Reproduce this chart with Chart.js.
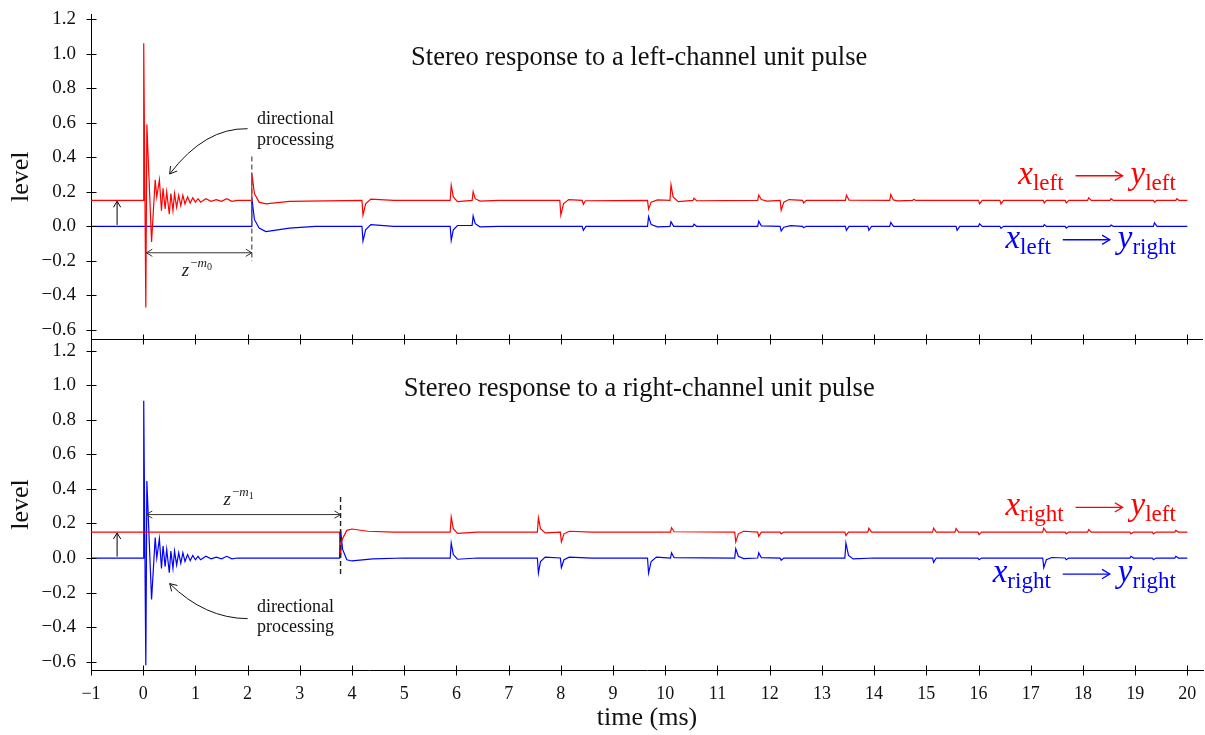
<!DOCTYPE html>
<html>
<head>
<meta charset="utf-8">
<script src="https://cdn.jsdelivr.net/npm/chart.js@4.4.1/dist/chart.umd.min.js"></script>
<style>
  html, body { margin: 0; padding: 0; background: #fff; }
</style>
</head>
<body>
<canvas id="c" width="1205" height="735"></canvas>
<script>
// tick values
const timeTicks = [-1, 0, 1, 2, 3, 4, 5, 6, 7, 8, 9, 10, 11, 12, 13, 14, 15, 16, 17, 18, 19, 20];
const levelTicks = [-0.6, -0.4, -0.2, 0, 0.2, 0.4, 0.6, 0.8, 1.0, 1.2];

// top panel: left-channel pulse, [time ms, level] (red is drawn with +0.15 offset)
const leftToLeft = [
  [-1, 0.15], [0, 0.15], [0.01, 1.06], [0.05, -0.47], [0.07, 0.59], [0.16, -0.09], [0.23, 0.27],
  [0.26, 0.17], [0.31, 0.27], [0.35, 0.09], [0.38, 0.22], [0.42, 0.10], [0.45, 0.20], [0.5, 0.07],
  [0.53, 0.19], [0.57, 0.09], [0.6, 0.19], [0.64, 0.11], [0.68, 0.18], [0.72, 0.12], [0.76, 0.18],
  [0.8, 0.13], [0.85, 0.17], [0.9, 0.135], [0.95, 0.165], [1.0, 0.14], [1.05, 0.16], [1.1, 0.14],
  [1.2, 0.16], [1.3, 0.145], [1.4, 0.155], [1.5, 0.145], [1.6, 0.16], [1.7, 0.145], [1.8, 0.15],
  [2.07, 0.15], [2.08, 0.31], [2.13, 0.19], [2.22, 0.14], [2.35, 0.13], [2.8, 0.145], [4.19, 0.15],
  [4.21, 0.065], [4.26, 0.13], [4.36, 0.158], [4.8, 0.15], [5.88, 0.15], [5.9, 0.237], [5.94, 0.17],
  [6.02, 0.143], [6.3, 0.15], [6.32, 0.2], [6.36, 0.16], [6.45, 0.146], [6.8, 0.15], [7.98, 0.15],
  [8.0, 0.065], [8.05, 0.13], [8.15, 0.155], [8.41, 0.15], [8.43, 0.127], [8.47, 0.148], [9.66, 0.15],
  [9.68, 0.1], [9.73, 0.14], [9.85, 0.153], [10.09, 0.15], [10.11, 0.24], [10.15, 0.17], [10.25, 0.143],
  [10.53, 0.15], [10.55, 0.162], [10.6, 0.148], [11.77, 0.15], [11.79, 0.18], [11.84, 0.155],
  [11.95, 0.146], [12.2, 0.15], [12.22, 0.093], [12.27, 0.14], [12.37, 0.155], [12.63, 0.15],
  [12.65, 0.135], [12.7, 0.15], [13.45, 0.15], [13.47, 0.18], [13.52, 0.152], [14.3, 0.15],
  [14.32, 0.185], [14.37, 0.153], [14.45, 0.147], [14.74, 0.15], [14.76, 0.157], [14.8, 0.15],
  [16.0, 0.15], [16.02, 0.13], [16.07, 0.15], [16.41, 0.15], [16.43, 0.13], [16.48, 0.15],
  [17.24, 0.15], [17.26, 0.135], [17.3, 0.15], [17.66, 0.15], [17.68, 0.135], [17.73, 0.15],
  [18.09, 0.15], [18.11, 0.165], [18.16, 0.15], [18.52, 0.15], [18.54, 0.16], [18.58, 0.15],
  [19.35, 0.15], [19.37, 0.14], [19.41, 0.15], [19.78, 0.15], [19.8, 0.16], [19.84, 0.15], [20, 0.15]
];
const leftToRight = [
  [-1, 0], [2.07, 0], [2.08, 0.165], [2.13, 0.04], [2.22, -0.01], [2.35, -0.03], [2.8, -0.01], [3.3, 0],
  [4.19, 0], [4.21, -0.085], [4.26, -0.02], [4.36, 0.01], [4.8, 0], [5.88, 0], [5.9, -0.081],
  [5.94, -0.02], [6.02, 0.005], [6.3, 0.005], [6.32, 0.06], [6.36, 0.015], [6.45, -0.003], [6.8, 0],
  [8.41, 0], [8.43, -0.023], [8.48, 0], [9.66, 0], [9.68, 0.056], [9.73, 0.01], [9.85, -0.003],
  [10.09, 0], [10.11, 0.027], [10.16, 0], [10.53, 0], [10.55, 0.012], [10.6, 0], [11.77, 0],
  [11.79, 0.03], [11.84, 0.003], [12.2, 0], [12.22, -0.027], [12.27, -0.005], [12.4, 0.004],
  [12.63, 0], [12.65, -0.008], [12.7, 0], [13.45, 0], [13.47, -0.023], [13.52, 0], [13.88, 0],
  [13.9, -0.023], [13.95, 0], [14.3, 0], [14.32, 0.023], [14.37, 0], [15.57, 0], [15.59, -0.023],
  [15.64, 0], [16.0, 0], [16.02, 0.015], [16.07, 0], [16.41, 0], [16.43, -0.012], [16.48, 0],
  [17.24, 0], [17.26, 0.01], [17.3, 0], [17.66, 0], [17.68, -0.01], [17.73, 0], [18.52, 0],
  [18.54, 0.008], [18.58, 0], [19.35, 0], [19.37, 0.02], [19.42, 0], [20, 0]
];

// bottom panel: right-channel pulse
const rightToLeft = [
  [-1, 0.15], [3.76, 0.15], [3.78, 0.0], [3.8, 0.1], [3.9, 0.16], [4.0, 0.168], [4.3, 0.155],
  [4.8, 0.15], [5.88, 0.15], [5.9, 0.237], [5.94, 0.17], [6.02, 0.143], [6.4, 0.15], [7.55, 0.15],
  [7.57, 0.233], [7.61, 0.17], [7.7, 0.145], [7.99, 0.15], [8.01, 0.093], [8.06, 0.14], [8.16, 0.155],
  [8.6, 0.15], [10.1, 0.15], [10.12, 0.175], [10.17, 0.152], [11.33, 0.15], [11.35, 0.093],
  [11.4, 0.14], [11.5, 0.155], [11.77, 0.15], [11.79, 0.125], [11.84, 0.15], [12.2, 0.15],
  [12.22, 0.14], [12.27, 0.15], [13.44, 0.15], [13.46, 0.13], [13.51, 0.15], [13.88, 0.15],
  [13.9, 0.173], [13.95, 0.15], [15.12, 0.15], [15.14, 0.173], [15.19, 0.15], [15.55, 0.15],
  [15.57, 0.17], [15.62, 0.15], [15.99, 0.15], [16.01, 0.135], [16.06, 0.15], [17.23, 0.15],
  [17.25, 0.173], [17.3, 0.15], [17.66, 0.15], [17.68, 0.14], [17.73, 0.15], [18.09, 0.15],
  [18.11, 0.165], [18.16, 0.15], [18.9, 0.15], [18.92, 0.14], [18.97, 0.15], [19.33, 0.15],
  [19.35, 0.14], [19.4, 0.15], [19.76, 0.15], [19.78, 0.16], [19.83, 0.15], [20, 0.15]
];
const rightToRight = [
  [-1, 0], [0, 0], [0.01, 0.91], [0.05, -0.62], [0.07, 0.446], [0.16, -0.24], [0.23, 0.118],
  [0.26, 0.0], [0.31, 0.112], [0.35, -0.06], [0.38, 0.07], [0.42, -0.05], [0.45, 0.05], [0.5, -0.085],
  [0.53, 0.04], [0.57, -0.06], [0.6, 0.04], [0.64, -0.04], [0.68, 0.03], [0.72, -0.03], [0.76, 0.03],
  [0.8, -0.02], [0.85, 0.02], [0.9, -0.015], [0.95, 0.015], [1.0, -0.01], [1.05, 0.01], [1.1, -0.01],
  [1.2, 0.01], [1.3, -0.005], [1.4, 0.005], [1.5, -0.005], [1.6, 0.01], [1.7, -0.005], [1.8, 0],
  [3.76, 0], [3.78, 0.164], [3.82, 0.05], [3.9, -0.01], [4.0, -0.017], [4.4, -0.005], [5, 0],
  [5.88, 0], [5.9, 0.087], [5.94, 0.02], [6.02, -0.007], [6.4, 0], [7.55, 0], [7.57, -0.087],
  [7.61, -0.02], [7.7, 0.005], [7.99, 0], [8.01, -0.056], [8.06, -0.01], [8.16, 0.005], [8.6, 0],
  [9.66, 0], [9.68, -0.087], [9.73, -0.02], [9.83, 0.005], [10.1, 0], [10.12, 0.03], [10.17, 0.002],
  [11.33, 0], [11.35, 0.054], [11.4, 0.01], [11.5, -0.003], [11.77, 0], [11.79, 0.03], [11.84, 0.002],
  [12.2, 0], [12.22, -0.013], [12.27, 0], [13.44, 0], [13.46, 0.087], [13.51, 0.015], [13.6, -0.005],
  [14, 0], [15.12, 0], [15.14, -0.025], [15.19, 0], [15.99, 0], [16.01, -0.01], [16.06, 0],
  [17.23, 0], [17.25, -0.056], [17.3, -0.01], [17.4, 0.003], [17.66, 0], [17.68, -0.01], [17.73, 0],
  [18.9, 0], [18.92, 0.01], [18.97, 0], [19.33, 0], [19.35, -0.01], [19.4, 0], [19.76, 0],
  [19.78, 0.01], [19.83, 0], [20, 0]
];

const SERIF = '"Liberation Serif", "DejaVu Serif", serif';
const RED = '#ff0000';
const BLUE = '#0000ff';
const INK = '#111';

const pts = arr => arr.map(p => ({ x: p[0], y: p[1] }));
const minusFmt = (v, digits) => (v < -1e-9 ? '\u2212' : '') + Math.abs(v).toFixed(digits);

function lineSet(label, arr, color, axis) {
  return {
    label, data: pts(arr), yAxisID: axis,
    borderColor: color, borderWidth: 1.2, pointRadius: 0, tension: 0, fill: false
  };
}

function yScale(min, max, weight) {
  return {
    type: 'linear', position: 'left', stack: 'panels', stackWeight: weight,
    min, max,
    afterBuildTicks: s => { s.ticks = levelTicks.map(v => ({ value: v })); },
    afterFit: s => { s.width = 91; s.paddingTop = 0; s.paddingBottom = 0; },
    grid: { display: false, drawTicks: true, tickLength: 12 },
    border: { display: true, color: '#000', width: 1 },
    ticks: { padding: 3, autoSkip: false, color: INK, font: { family: SERIF, size: 19 }, callback: v => minusFmt(v, 1) },
    title: { display: true, text: 'level', color: INK, font: { family: SERIF, size: 26 }, padding: { top: 6, bottom: 0 } }
  };
}

function arrowHead(ctx, x, y, ang, size) {
  ctx.beginPath();
  ctx.moveTo(x + size * Math.cos(ang + 2.6), y + size * Math.sin(ang + 2.6));
  ctx.lineTo(x, y);
  ctx.lineTo(x + size * Math.cos(ang - 2.6), y + size * Math.sin(ang - 2.6));
  ctx.stroke();
}

function drawPair(ctx, right, base, from, to, color) {
  const big = 'italic 33px ' + SERIF, small = '23px ' + SERIF;
  ctx.font = big;
  const wx = ctx.measureText('x').width, wy = ctx.measureText('y').width;
  ctx.font = small;
  const w1 = ctx.measureText(from).width, w2 = ctx.measureText(to).width;
  const arrowW = 47, gap1 = 12, gap2 = 8;
  let x = right - (wx + w1 + gap1 + arrowW + gap2 + wy + w2);
  ctx.fillStyle = color;
  ctx.strokeStyle = color;
  ctx.textBaseline = 'alphabetic';
  ctx.textAlign = 'left';
  ctx.font = big; ctx.fillText('x', x, base); x += wx;
  ctx.font = small; ctx.fillText(from, x, base + 6); x += w1 + gap1;
  const ay = base - 8;
  ctx.lineWidth = 1.3;
  ctx.beginPath(); ctx.moveTo(x, ay); ctx.lineTo(x + arrowW, ay); ctx.stroke();
  arrowHead(ctx, x + arrowW, ay, 0, 9);
  x += arrowW + gap2;
  ctx.font = big; ctx.fillText('y', x, base); x += wy;
  ctx.font = small; ctx.fillText(to, x, base + 6);
}

function drawZ(ctx, x, base, sub) {
  ctx.fillStyle = '#222';
  ctx.textBaseline = 'alphabetic';
  ctx.textAlign = 'left';
  ctx.font = 'italic 19px ' + SERIF; ctx.fillText('z', x, base); x += ctx.measureText('z').width + 1;
  const sb = base - 9;
  ctx.font = '13px ' + SERIF; ctx.fillText('\u2212', x, sb); x += ctx.measureText('\u2212').width;
  ctx.font = 'italic 13px ' + SERIF; ctx.fillText('m', x, sb); x += ctx.measureText('m').width;
  ctx.font = '10px ' + SERIF; ctx.fillText(sub, x, sb + 3);
}

function drawPanel(ctx, xs, ys, p) {
  const X = v => xs.getPixelForValue(v), Y = v => ys.getPixelForValue(v);
  ctx.save();
  // title
  ctx.fillStyle = INK;
  ctx.font = '26.5px ' + SERIF;
  ctx.textAlign = 'center';
  ctx.textBaseline = 'alphabetic';
  ctx.fillText(p.title, X(9.5), Y(0.935));

  // directional processing note + curved arrow
  ctx.textAlign = 'left';
  ctx.font = '18px ' + SERIF;
  ctx.fillText('directional', X(2.18), Y(p.noteY[0]));
  ctx.fillText('processing', X(2.18), Y(p.noteY[1]));
  ctx.strokeStyle = INK; ctx.lineWidth = 1;
  const [sx, sy, cx, cy, ex, ey] = p.curve;
  ctx.beginPath();
  ctx.moveTo(X(sx), Y(sy));
  ctx.quadraticCurveTo(X(cx), Y(cy), X(ex), Y(ey));
  ctx.stroke();
  arrowHead(ctx, X(ex), Y(ey), Math.atan2(Y(ey) - Y(cy), X(ex) - X(cx)), 8);

  // delay marker
  ctx.setLineDash([5, 3]);
  ctx.strokeStyle = p.dashColor; ctx.lineWidth = 1.4;
  ctx.beginPath(); ctx.moveTo(X(p.delay), Y(p.dashY[0])); ctx.lineTo(X(p.delay), Y(p.dashY[1])); ctx.stroke();
  ctx.setLineDash([]);
  ctx.strokeStyle = '#333'; ctx.lineWidth = 1;
  const ay = Y(p.spanY), a0 = X(0.06), a1 = X(p.delay);
  ctx.beginPath(); ctx.moveTo(a0, ay); ctx.lineTo(a1, ay); ctx.stroke();
  arrowHead(ctx, a0, ay, Math.PI, 7);
  arrowHead(ctx, a1, ay, 0, 7);
  drawZ(ctx, X(p.zAt[0]), Y(p.zAt[1]), p.zSub);

  // offset arrow
  ctx.strokeStyle = '#000'; ctx.lineWidth = 1;
  ctx.beginPath(); ctx.moveTo(X(-0.5), Y(0.008)); ctx.lineTo(X(-0.5), Y(0.145)); ctx.stroke();
  arrowHead(ctx, X(-0.5), Y(0.145), -Math.PI / 2, 7);

  // channel labels
  drawPair(ctx, X(19.78), Y(p.redY), p.src, 'left', RED);
  drawPair(ctx, X(19.78), Y(p.blueY), p.src, 'right', BLUE);
  ctx.restore();
}

const decorations = {
  id: 'decorations',
  afterDatasetsDraw(chart) {
    const ctx = chart.ctx, xs = chart.scales.x, yt = chart.scales.yTop, yb = chart.scales.yBot;
    const area = chart.chartArea;
    ctx.save();
    ctx.strokeStyle = '#000'; ctx.lineWidth = 1;
    // frame line between panels
    const mid = Math.round(yt.bottom) + 0.5;
    ctx.beginPath(); ctx.moveTo(area.left, mid); ctx.lineTo(area.right, mid); ctx.stroke();
    // tick marks crossing the axes
    const bot = Math.round(area.bottom) + 0.5;
    timeTicks.forEach(t => {
      const px = Math.round(xs.getPixelForValue(t)) + 0.5;
      ctx.beginPath();
      ctx.moveTo(px, bot - 5); ctx.lineTo(px, bot + 5);
      ctx.moveTo(px, mid - 5); ctx.lineTo(px, mid + 5);
      ctx.stroke();
    });
    const lx = Math.round(area.left) + 0.5;
    [yt, yb].forEach(s => levelTicks.forEach(v => {
      const py = Math.round(s.getPixelForValue(v)) + 0.5;
      ctx.beginPath(); ctx.moveTo(lx - 5, py); ctx.lineTo(lx + 5, py); ctx.stroke();
    }));
    ctx.restore();

    drawPanel(ctx, xs, yt, {
      title: 'Stereo response to a left-channel unit pulse',
      noteY: [0.592, 0.47], curve: [2.0, 0.565, 1.18, 0.571, 0.507, 0.303],
      delay: 2.08, dashY: [0.404, -0.2], dashColor: '#666', spanY: -0.153,
      zAt: [0.74, -0.288], zSub: '0', src: 'left', redY: 0.2465, blueY: -0.124
    });
    drawPanel(ctx, xs, yb, {
      title: 'Stereo response to a right-channel unit pulse',
      noteY: [-0.3125, -0.43], curve: [2.0, -0.351, 1.18, -0.349, 0.507, -0.148],
      delay: 3.78, dashY: [0.353, -0.1], dashColor: '#222', spanY: 0.2515,
      zAt: [1.54, 0.305], zSub: '1', src: 'right', redY: 0.247, blueY: -0.139
    });
  }
};

new Chart(document.getElementById('c').getContext('2d'), {
  type: 'line',
  data: {
    datasets: [
      lineSet('x_left -> y_left', leftToLeft, RED, 'yTop'),
      lineSet('x_left -> y_right', leftToRight, BLUE, 'yTop'),
      lineSet('x_right -> y_left', rightToLeft, RED, 'yBot'),
      lineSet('x_right -> y_right', rightToRight, BLUE, 'yBot')
    ]
  },
  options: {
    responsive: false,
    animation: false,
    devicePixelRatio: 1,
    layout: { padding: { top: 14.5, right: 2, bottom: 0, left: 0 } },
    plugins: { legend: { display: false }, tooltip: { enabled: false } },
    scales: {
      x: {
        type: 'linear', min: -1, max: 20.3,
        afterBuildTicks: s => { s.ticks = timeTicks.map(v => ({ value: v })); },
        afterFit: s => { s.height = 65; s.paddingLeft = 0; s.paddingRight = 0; },
        grid: { display: false, drawTicks: true, tickLength: 5 },
        border: { display: true, color: '#000', width: 1 },
        ticks: { padding: 8, maxRotation: 0, autoSkip: false, color: INK, font: { family: SERIF, size: 18 }, callback: v => minusFmt(v, 0) },
        title: { display: true, text: 'time (ms)', color: INK, font: { family: SERIF, size: 26 }, padding: { top: 0, bottom: 1 } }
      },
      // the scale listed first in the stack ends up lowest
      yBot: yScale(-0.648, 1.2675, 331),
      yTop: yScale(-0.652, 1.226, 324.5)
    }
  },
  plugins: [decorations]
});
</script>
</body>
</html>
